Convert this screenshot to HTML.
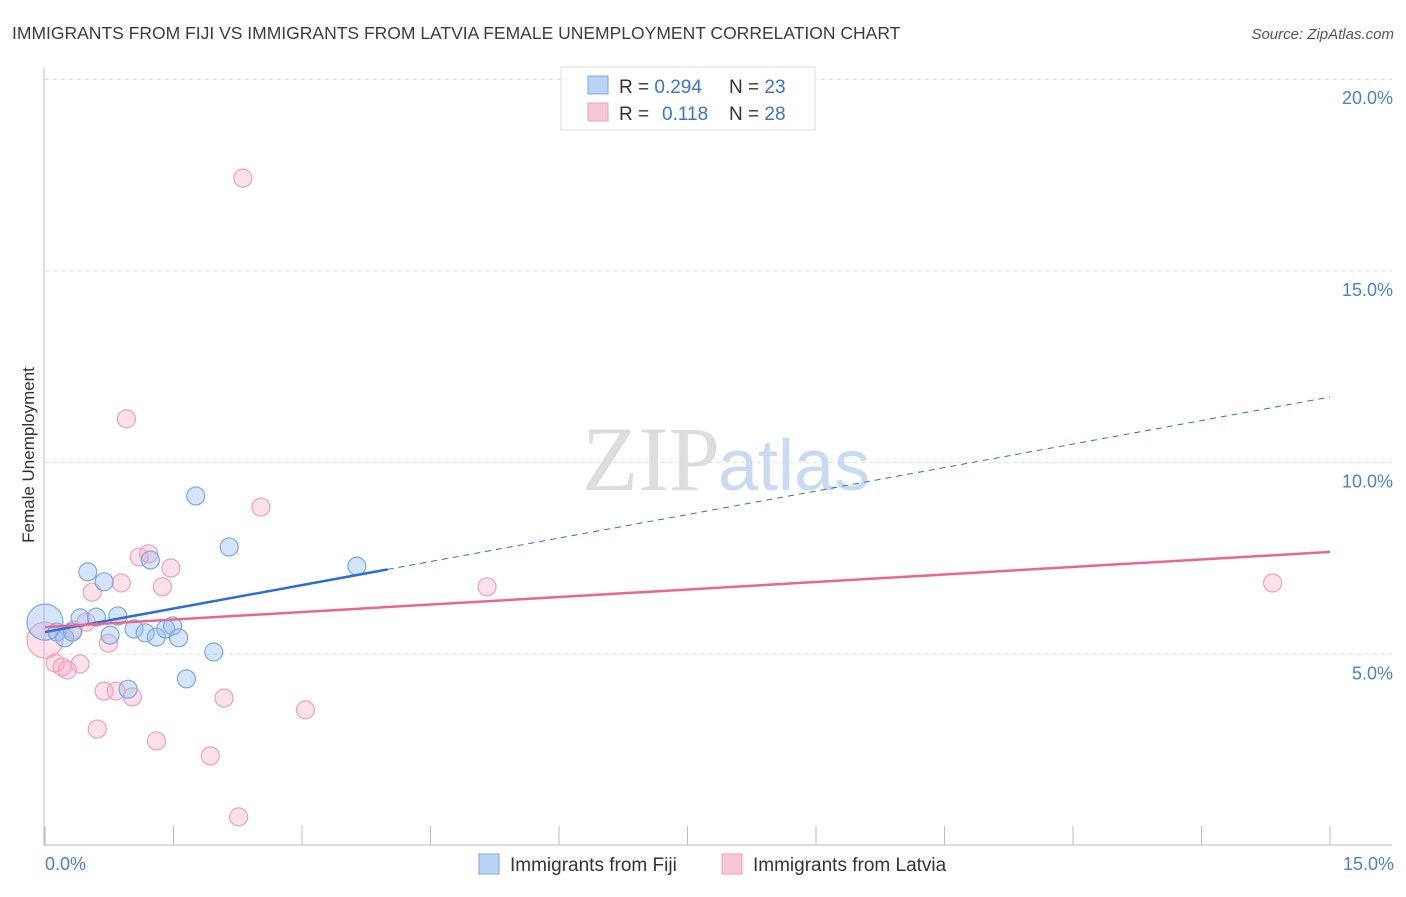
<!DOCTYPE html>
<html><head><meta charset="utf-8"><style>
body{margin:0;background:#fff;font-family:"Liberation Sans",sans-serif;}
</style></head><body>
<svg width="1406" height="892" xmlns="http://www.w3.org/2000/svg">
<text x="12" y="39" font-size="17.5" fill="#3c3c3c">IMMIGRANTS FROM FIJI VS IMMIGRANTS FROM LATVIA FEMALE UNEMPLOYMENT CORRELATION CHART</text>
<text x="1394" y="39" font-size="15" fill="#555" font-style="italic" text-anchor="end">Source: ZipAtlas.com</text>
<g id="grid"></g>
<text x="720" y="490" font-size="92" fill="#ddd" text-anchor="end" font-family="Liberation Serif,serif">ZIP</text>
<text x="718" y="490" font-size="72" fill="#c9dbf2">atlas</text>
<g id="marks"></g>
<text x="34" y="455" font-size="17" fill="#333" text-anchor="middle" transform="rotate(-90 34 455)">Female Unemployment</text>
<text x="45" y="870" font-size="18" fill="#4a7fd4">0.0%</text>
<text x="1394" y="870" font-size="18" fill="#4a7fd4" text-anchor="end">15.0%</text>
<g>
<rect x="561" y="67" width="254" height="63" fill="#fff" stroke="#ddd"/>
<rect x="588" y="76" width="20" height="18" fill="#b9d3f5" stroke="#7aa8e0"/>
<rect x="588" y="103" width="20" height="18" fill="#f9c6d6" stroke="#f0a0bc"/>
<text x="619" y="93" font-size="19" fill="#333">R = <tspan fill="#3a74d0">0.294</tspan><tspan x="729">N = </tspan><tspan fill="#3a74d0">23</tspan></text>
<text x="619" y="120" font-size="19" fill="#333">R = <tspan x="662" fill="#3a74d0">0.118</tspan><tspan x="729">N = </tspan><tspan fill="#3a74d0">28</tspan></text>
</g>
<g>
<rect x="479" y="854" width="20" height="20" fill="#b9d3f5" stroke="#7aa8e0"/>
<text x="510" y="871" font-size="19" fill="#333">Immigrants from Fiji</text>
<rect x="722" y="854" width="20" height="20" fill="#f9c6d6" stroke="#f0a0bc"/>
<text x="753" y="871" font-size="19" fill="#333">Immigrants from Latvia</text>
</g>
</svg>
<script>
const yTicks=[5,10,15,20];
const yTickLabels=["5.0%","10.0%","15.0%","20.0%"];
const xTickVals=[0,1.5,3,4.5,6,7.5,9,10.5,12,13.5,15];
const fijiX=[0.00,0.14,0.23,0.32,0.41,0.50,0.60,0.69,0.76,0.85,1.04,1.17,1.23,1.30,1.41,1.49,1.56,1.76,1.97,1.65,0.97,2.15,3.64];
const fijiY=[5.84,5.58,5.43,5.58,5.95,7.15,5.97,6.89,5.50,6.00,5.66,5.56,7.46,5.45,5.66,5.74,5.43,9.13,5.06,4.36,4.09,7.80,7.30];
const latX=[0,0.12,0.20,0.26,0.33,0.41,0.48,0.55,0.61,0.69,0.74,0.83,0.89,0.95,1.02,1.10,1.21,1.30,1.37,1.47,1.93,2.09,2.26,2.31,2.52,3.04,5.16,14.33];
const latY=[5.37,4.77,4.67,4.59,5.63,4.75,5.84,6.62,3.05,4.04,5.29,4.04,6.86,11.14,3.89,7.54,7.62,2.74,6.76,7.25,2.35,3.86,0.76,17.42,8.84,3.55,6.76,6.86];
const fijiTrend=[5.58,11.71];
const fijiSolidEnd=4.0;
const latTrend=[5.71,7.67];
const sx=v=>45+v*1285/15;
const sy=v=>846-v*191.7/5;
const NS="http://www.w3.org/2000/svg";
function mk(p,t,a){const e=document.createElementNS(NS,t);for(const k in a)e.setAttribute(k,a[k]);p.appendChild(e);return e;}
const grid=document.getElementById('grid'),marks=document.getElementById('marks');
yTicks.forEach((v,i)=>{
 const l=mk(grid,'line',{x1:45,x2:1392,y1:sy(v),y2:sy(v),stroke:'#ddd','stroke-dasharray':'4,4'});
 
 
 const t=mk(grid,'text',{x:1393,y:sy(v)+25,'font-size':18,fill:'#4a7fd4','text-anchor':'end'});
 t.textContent=yTickLabels[i];
 
 
});
mk(grid,'line',{x1:44,x2:44,y1:68,y2:845,stroke:'#bbb'});
mk(grid,'line',{x1:44,x2:1392,y1:845,y2:845,stroke:'#bbb'});
xTickVals.forEach(v=>{
 const l=mk(grid,'line',{x1:sx(v),x2:sx(v),y1:826,y2:845,stroke:'#bbb'});
 
 
});
function dots(X,Y,fill,stroke,name){
 X.forEach((x,i)=>{
  const r=(i===0)?18:9;
  const c=mk(marks,'circle',{cx:sx(x),cy:sy(Y[i]),r:r,fill:fill,stroke:stroke,'stroke-width':1.2});
  
  
 });
}
dots(latX,latY,'rgba(245,170,195,0.35)','#f0a0bc','latvia-point');
dots(fijiX,fijiY,'rgba(150,190,240,0.4)','#7aa8e0','fiji-point');
const fy=x=>fijiTrend[0]+(fijiTrend[1]-fijiTrend[0])*x/15;
let l1=mk(marks,'line',{x1:sx(0),y1:sy(fy(0)),x2:sx(fijiSolidEnd),y2:sy(fy(fijiSolidEnd)),stroke:'#2a6fd6','stroke-width':2.5});


let l2=mk(marks,'line',{x1:sx(fijiSolidEnd),y1:sy(fy(fijiSolidEnd)),x2:sx(15),y2:sy(fy(15)),stroke:'#2a6fd6','stroke-width':1,'stroke-dasharray':'6,5'});


let l3=mk(marks,'line',{x1:sx(0),y1:sy(latTrend[0]),x2:sx(15),y2:sy(latTrend[1]),stroke:'#e8668f','stroke-width':2.5});


</script>
</body></html>
